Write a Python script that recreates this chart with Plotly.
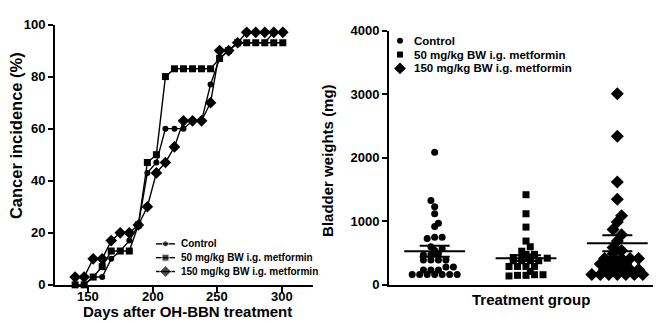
import plotly.graph_objects as go

# ---------------- data ----------------
days = [140, 147, 154, 161, 168, 175, 182, 189, 196, 203, 210, 217,
        224, 231, 238, 245, 252, 259, 266, 273, 280, 287, 294, 301]
control_inc = [0, 0, 3, 3, 10, 13, 17, 23, 43, 47, 60, 60,
               60, 63, 63, 77, 87, 90, 93, 93, 93, 93, 97, 97]
met50_inc = [0, 0, 3, 7, 13, 13, 13, 23, 47, 50, 80, 83,
             83, 83, 83, 83, 87, 90, 93, 93, 93, 93, 93, 93]
met150_inc = [3, 3, 10, 10, 17, 20, 20, 23, 30, 43, 47, 53,
              63, 63, 63, 70, 90, 90, 93, 97, 97, 97, 97, 97]

series_names = ["Control", "50 mg/kg BW i.g. metformin", "150 mg/kg BW i.g. metformin"]

control_wt = [2090, 1330, 1230, 1120, 970, 920, 750, 750, 730, 600, 570, 540, 490, 480, 470,
              390, 390, 390, 390, 280, 280, 235, 235, 235, 165, 165, 165, 165, 165, 165, 165]
met50_wt = [1420, 1120, 910, 690, 600, 530, 480, 480, 440, 430, 430, 420, 380, 380, 380, 380,
            290, 290, 290, 290, 210, 160, 150, 140, 150, 160]
met150_wt = [3010, 2340, 1620, 1350, 1090, 990, 870, 790, 690, 590, 540, 490,
             415, 415, 415, 415, 415, 330, 330, 330, 330, 240, 240, 240, 240, 240,
             165, 165, 165, 165, 165, 165, 165]
group_means = [530, 420, 655]
group_sems = [87, 45, 125]

y_ticks_left = [0, 20, 40, 60, 80, 100]
x_ticks_left = [150, 200, 250, 300]
y_ticks_right = [0, 1000, 2000, 3000, 4000]

# ---------------- layout helpers ----------------
W, H = 661, 323
FONT = "Arial, Liberation Sans, sans-serif"


def row_offsets(vals, tol, sp, px_per_val, d):
    """Prism-like scatter: near-equal values share a centred row; a row that
    would collide with the row below is shifted by half a step."""
    order = sorted(range(len(vals)), key=lambda i: vals[i])
    rows, cur, start = [], [], None
    for i in order:
        if cur and vals[i] - start > tol:
            rows.append(cur)
            cur = []
        if not cur:
            start = vals[i]
        cur.append(i)
    if cur:
        rows.append(cur)
    offs = [0.0] * len(vals)
    prev = []
    flip = 1
    for r in rows:
        n = len(r)
        base = [(k - (n - 1) / 2.0) * sp for k in range(n)]
        ys = [vals[i] * px_per_val for i in r]

        def collides(shift):
            for b, y in zip(base, ys):
                for (px, py) in prev:
                    if (b + shift - px) ** 2 + (y - py) ** 2 < d * d:
                        return True
            return False

        shift = 0.0
        if collides(0.0):
            shift = flip * sp / 2.0
            flip = -flip
        for b, i in zip(base, r):
            offs[i] = b + shift
        prev = [(b + shift, y) for b, y in zip(base, ys)]
    return offs


fig = go.Figure()

# ----- left panel -----
symbols = ["circle", "square", "diamond"]
msizes = [6, 7, 9]
for name, vals, sym, ms in zip(series_names, [control_inc, met50_inc, met150_inc], symbols, msizes):
    fig.add_trace(go.Scatter(
        x=days, y=vals, mode="lines+markers", name=name,
        line=dict(color="black", width=1.4),
        marker=dict(symbol=sym, size=ms, color="black"),
        cliponaxis=False, xaxis="x", yaxis="y", showlegend=False))

# ----- right panel -----
ry0, ry1 = 283.0, 16.7
rx0, rx1 = 381.0, 655.0
px_per_cat = (rx1 - rx0) / 3.0
px_per_val = (ry0 - ry1) / 4000.0
rsizes = [7, 7, 10]
spacings = [7.5, 8.5, 8.5]
for gi, (name, vals, sym, ms) in enumerate(zip(series_names, [control_wt, met50_wt, met150_wt], symbols, rsizes)):
    offs = row_offsets(vals, 45, spacings[gi], px_per_val, 7.0)
    xs = [gi + 1 + o / px_per_cat for o in offs]
    fig.add_trace(go.Scatter(
        x=xs, y=vals, mode="markers", name=name,
        marker=dict(symbol=sym, size=ms, color="black"),
        cliponaxis=False, xaxis="x2", yaxis="y2", showlegend=False))
    # mean line
    fig.add_trace(go.Scatter(
        x=[gi + 1 - 0.333, gi + 1 + 0.333], y=[group_means[gi]] * 2, mode="lines",
        line=dict(color="black", width=2), showlegend=False, hoverinfo="skip",
        xaxis="x2", yaxis="y2"))
    # SEM
    fig.add_trace(go.Scatter(
        x=[gi + 1], y=[group_means[gi]], mode="markers", marker=dict(size=1, color="rgba(0,0,0,0)"),
        error_y=dict(type="data", array=[group_sems[gi]], color="black", thickness=2, width=15),
        showlegend=False, hoverinfo="skip", xaxis="x2", yaxis="y2"))

# ----- legend keys (drawn on a transparent pixel overlay axis) -----
leg1_rows = [240, 254.5, 269]
leg2_rows = [27, 41.5, 56]
for k, (sym, ms, rms) in enumerate(zip(symbols, msizes, rsizes)):
    fig.add_trace(go.Scatter(
        x=[148, 157.5, 167], y=[leg1_rows[k]] * 3, mode="lines+markers",
        line=dict(color="black", width=1.4),
        marker=dict(symbol=sym, size=[0, ms, 0], color="black"),
        xaxis="x3", yaxis="y3", showlegend=False, hoverinfo="skip"))
    fig.add_trace(go.Scatter(
        x=[392], y=[leg2_rows[k]], mode="markers",
        marker=dict(symbol=sym, size=rms - 1, color="black"),
        xaxis="x3", yaxis="y3", showlegend=False, hoverinfo="skip"))
    fig.add_annotation(text=series_names[k], x=171, y=leg1_rows[k], xref="x3", yref="y3",
                       showarrow=False, xanchor="left", yanchor="middle",
                       font=dict(family=FONT, size=10, color="black", weight="bold"))
    fig.add_annotation(text=series_names[k], x=404, y=leg2_rows[k], xref="x3", yref="y3",
                       showarrow=False, xanchor="left", yanchor="middle",
                       font=dict(family=FONT, size=11.5, color="black", weight="bold"))

axis_common = dict(showline=True, linecolor="black", linewidth=2, ticks="outside",
                   tickcolor="black", tickwidth=2, showgrid=False, zeroline=False,
                   tickfont=dict(family=FONT, size=13, color="black", weight="bold"))

fig.update_layout(
    width=W, height=H, margin=dict(l=0, r=0, t=0, b=0),
    paper_bgcolor="white", plot_bgcolor="rgba(0,0,0,0)",
    font=dict(family=FONT, color="black"),
    showlegend=False,
    xaxis=dict(domain=[47 / W, 305 / W], range=[124.4, 324.4], tickvals=x_ticks_left,
               showticklabels=False, ticklen=5, anchor="y", **axis_common),
    yaxis=dict(domain=[(H - 283) / H, (H - 10) / H], range=[0, 100], tickvals=y_ticks_left,
               ticklen=5, anchor="x", **axis_common),
    xaxis2=dict(domain=[rx0 / W, rx1 / W], range=[0.5, 3.5], showticklabels=False,
                anchor="y2", showline=True, linecolor="black", linewidth=2, ticks="",
                showgrid=False, zeroline=False),
    yaxis2=dict(domain=[(H - ry0) / H, (H - ry1) / H], range=[0, 4000], tickvals=y_ticks_right,
                ticklen=5, anchor="x2", **axis_common),
    xaxis3=dict(domain=[0, 1], range=[0, W], visible=False, anchor="y3", fixedrange=True),
    yaxis3=dict(domain=[0, 1], range=[H, 0], visible=False, anchor="x3", fixedrange=True),
)

# x tick labels of the left panel
for v in x_ticks_left:
    fig.add_annotation(text=str(v), x=v, y=(H - 295) / H, xref="x", yref="paper",
                       showarrow=False, xanchor="center", yanchor="middle",
                       font=dict(family=FONT, size=13, color="black", weight="bold"))

title_font = dict(family=FONT, size=15, color="black", weight="bold")
fig.add_annotation(text="Days after OH-BBN treatment", x=179 / W, y=(H - 311) / H,
                   xref="paper", yref="paper", showarrow=False, font=title_font,
                   xanchor="center", yanchor="middle")
fig.add_annotation(text="Cancer incidence (%)", x=8 / W, y=(H - 127) / H,
                   xref="paper", yref="paper", showarrow=False, textangle=-90,
                   font=dict(family=FONT, size=16.5, color="black", weight="bold"),
                   xanchor="center", yanchor="middle")
fig.add_annotation(text="Treatment group", x=523 / W, y=(H - 298) / H,
                   xref="paper", yref="paper", showarrow=False, font=title_font,
                   xanchor="center", yanchor="middle")
fig.add_annotation(text="Bladder weights (mg)", x=320 / W, y=(H - 153) / H,
                   xref="paper", yref="paper", showarrow=False, textangle=-90,
                   font=dict(family=FONT, size=15, color="black", weight="bold"),
                   xanchor="center", yanchor="middle")

fig.write_html("out.html")
